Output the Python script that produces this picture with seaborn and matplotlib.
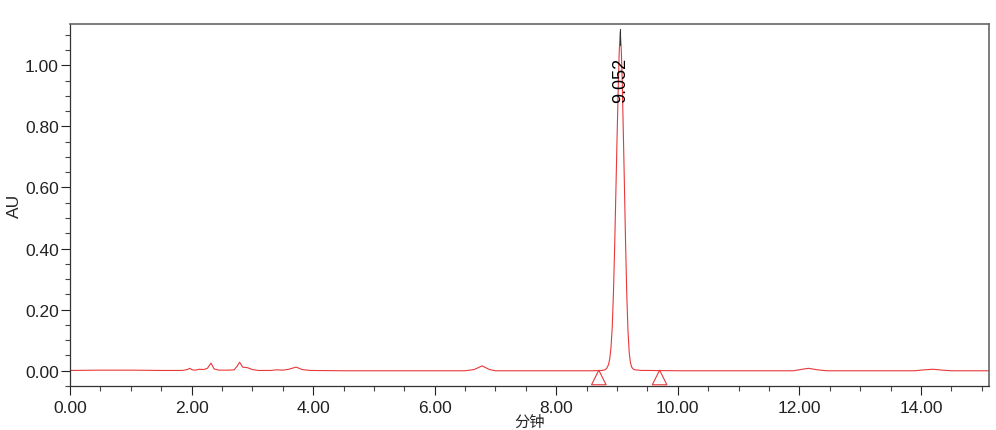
import numpy as np
import pandas as pd
import matplotlib
matplotlib.use("Agg")
import matplotlib.pyplot as plt
from matplotlib.ticker import MultipleLocator, FormatStrFormatter
import seaborn as sns

# chromatogram trace (minutes, AU)
time = [0.00, 0.50, 1.00, 1.50, 1.85, 1.93, 1.97, 2.01, 2.06, 2.13, 2.20, 2.26,
        2.32, 2.37, 2.45, 2.60, 2.70, 2.75, 2.79, 2.84, 2.92, 3.00, 3.10, 3.30,
        3.40, 3.50, 3.60, 3.72, 3.82, 3.95, 4.50, 5.50, 6.50, 6.65, 6.78, 6.90,
        7.00, 8.00, 8.60, 8.75, 8.80, 8.83, 8.86, 8.88, 8.90, 8.92, 8.94, 8.96,
        8.98, 9.00, 9.02, 9.035, 9.052, 9.07, 9.085, 9.10, 9.12, 9.14, 9.16, 9.18,
        9.20, 9.22, 9.24, 9.27, 9.30, 9.35, 9.40, 9.50, 10.00, 11.90,
        12.05, 12.15, 12.30, 12.45, 13.90, 14.05, 14.20, 14.35, 14.50, 15.12]
au = [0.001, 0.002, 0.002, 0.001, 0.001, 0.004, 0.008, 0.003, 0.002, 0.005, 0.004, 0.008,
      0.025, 0.006, 0.002, 0.002, 0.003, 0.015, 0.028, 0.012, 0.010, 0.004, 0.001, 0.001,
      0.003, 0.002, 0.005, 0.012, 0.004, 0.001, 0.000, 0.000, 0.000, 0.004, 0.016, 0.004,
      0.000, 0.000, 0.000, 0.001, 0.003, 0.008, 0.020, 0.040, 0.075, 0.140, 0.250, 0.400,
      0.580, 0.760, 0.930, 1.040, 1.110, 1.050, 0.950, 0.810, 0.620, 0.420, 0.250, 0.130,
      0.060, 0.027, 0.012, 0.005, 0.003, 0.002, 0.001, 0.001, 0.000, 0.000,
      0.005, 0.008, 0.003, 0.000, 0.000, 0.003, 0.005, 0.002, 0.000, 0.000]

peak_time = [9.052]
peak_label = ["9.052"]
peak_height = [1.11]
base_marks = [8.70, 9.70]

df = pd.DataFrame({"min": time, "AU": au})

sns.set_style("ticks")
plt.rcParams["font.family"] = ["Liberation Sans", "Noto Sans CJK SC", "DejaVu Sans"]

fig = plt.figure(figsize=(9.96, 4.31), dpi=100)
ax = fig.add_axes([0.0703, 0.102, 0.9227, 0.840])

sns.lineplot(data=df, x="min", y="AU", ax=ax, color="#e8383a", linewidth=0.8, sort=False)

# apex marker and label
for t, lab, h in zip(peak_time, peak_label, peak_height):
    ax.plot([t, t], [h - 0.045, h + 0.01], color="#333333", linewidth=0.8)
    ax.text(t, 0.88, lab, rotation=90, ha="center", va="bottom", fontsize=13, color="black")

# baseline start/end triangles
ax.scatter(base_marks, [-0.022] * len(base_marks), marker="^", s=110,
           facecolors="none", edgecolors="#e8383a", linewidths=0.8, zorder=3)

ax.set_xlim(0, 15.12)
ax.set_ylim(-0.05, 1.135)
ax.xaxis.set_major_locator(MultipleLocator(2))
ax.xaxis.set_minor_locator(MultipleLocator(0.5))
ax.yaxis.set_major_locator(MultipleLocator(0.2))
ax.yaxis.set_minor_locator(MultipleLocator(0.05))
ax.xaxis.set_major_formatter(FormatStrFormatter("%.2f"))
ax.yaxis.set_major_formatter(FormatStrFormatter("%.2f"))
ax.tick_params(which="major", direction="out", length=6.5, width=0.8, labelsize=12.5, colors="#222222")
ax.tick_params(axis="y", which="major", pad=1.5)
ax.tick_params(which="minor", direction="out", length=3.5, width=0.8, colors="#444444")

for side in ["left", "bottom"]:
    ax.spines[side].set_color("#333333")
    ax.spines[side].set_linewidth(0.9)
for side in ["top", "right"]:
    ax.spines[side].set_visible(True)
    ax.spines[side].set_color("#666666")
    ax.spines[side].set_linewidth(1.2)

ax.set_ylabel("AU", fontsize=12.5)
ax.yaxis.set_label_coords(-0.052, 0.5)
ax.set_xlabel("分钟", fontsize=11, labelpad=0)

fig.savefig("out.png", dpi=100)
